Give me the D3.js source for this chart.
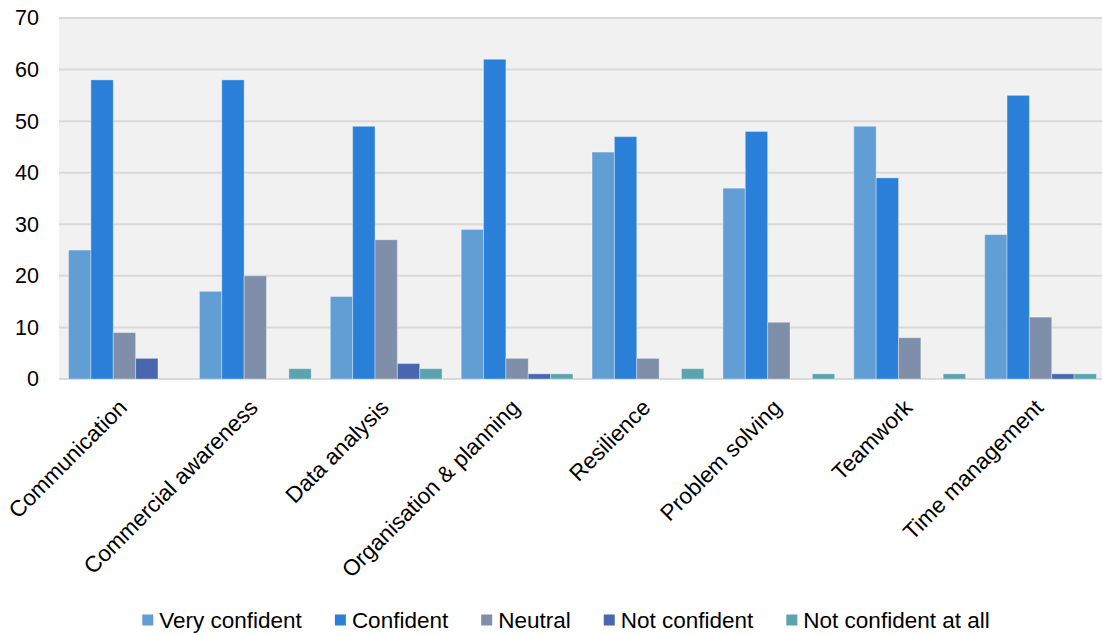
<!DOCTYPE html>
<html>
<head>
<meta charset="utf-8">
<script src="https://cdn.jsdelivr.net/npm/d3@7"></script>
<style>
  html, body { margin: 0; padding: 0; background: #ffffff; }
  svg { display: block; font-family: "Liberation Sans", Arial, sans-serif; }
</style>
</head>
<body>
<svg id="chart" width="1102" height="635"></svg>
<script>
// Skill categories along the x axis
const categories = [
  "Communication", "Commercial awareness", "Data analysis",
  "Organisation & planning", "Resilience", "Problem solving",
  "Teamwork", "Time management"
];

// Response levels (one bar per level within each category)
const seriesNames = ["Very confident", "Confident", "Neutral", "Not confident", "Not confident at all"];

const veryConfident     = [25, 17, 16, 29, 44, 37, 49, 28];
const confident         = [58, 58, 49, 62, 47, 48, 39, 55];
const neutral           = [9, 20, 27, 4, 4, 11, 8, 12];
const notConfident      = [4, 0, 3, 1, 0, 0, 0, 1];
const notConfidentAtAll = [0, 2, 2, 1, 2, 1, 1, 1];

const yTicks = [0, 10, 20, 30, 40, 50, 60, 70];

const colors = ["#619ed4", "#2a7fd8", "#7f8fa9", "#4967b0", "#5ba3ae"];

const seriesValues = [veryConfident, confident, neutral, notConfident, notConfidentAtAll];

const svg = d3.select("#chart");
const plot = { left: 59, right: 1106, top: 18, bottom: 379 };

const x = d3.scaleBand()
  .domain(categories)
  .range([plot.left, plot.right])
  .paddingInner(0.146)
  .paddingOuter(0.073);

const xInner = d3.scaleBand()
  .domain(seriesNames)
  .range([0, x.bandwidth()]);

const y = d3.scaleLinear()
  .domain([0, 70])
  .range([plot.bottom, plot.top]);

// Plot background
svg.append("rect")
  .attr("x", plot.left)
  .attr("y", plot.top)
  .attr("width", plot.right - plot.left)
  .attr("height", plot.bottom - plot.top)
  .attr("fill", "#f1f1f1");

// Horizontal gridlines
svg.append("g")
  .selectAll("line")
  .data(yTicks)
  .join("line")
  .attr("x1", plot.left)
  .attr("x2", plot.right)
  .attr("y1", d => y(d))
  .attr("y2", d => y(d))
  .attr("stroke", "#d9d9d9")
  .attr("stroke-width", 2);

// Y axis labels
const yAxis = d3.axisLeft(y).tickValues(yTicks).tickSize(0).tickPadding(20);
const yg = svg.append("g")
  .attr("transform", `translate(${plot.left},0)`)
  .call(yAxis);
yg.select(".domain").remove();
yg.selectAll("text")
  .attr("font-size", 21.5)
  .attr("fill", "#000")
  .attr("font-family", "Liberation Sans, Arial, sans-serif");

// Bars
const groups = svg.append("g")
  .selectAll("g")
  .data(categories)
  .join("g")
  .attr("transform", d => `translate(${x(d)},0)`);

groups.selectAll("rect")
  .data((d, i) => seriesNames.map((s, k) => ({ series: s, k, value: seriesValues[k][i] })))
  .join("rect")
  .filter(d => d.value > 0)
  .attr("x", d => xInner(d.series))
  .attr("width", xInner.bandwidth())
  .attr("y", d => y(d.value))
  .attr("height", d => y(0) - y(d.value))
  .attr("fill", d => colors[d.k])
  .attr("stroke", "rgba(255,255,255,0.35)")
  .attr("stroke-width", 1);

// Category labels, rotated
const xAxis = d3.axisBottom(x).tickSize(0).tickPadding(0);
const xg = svg.append("g")
  .attr("transform", `translate(0,${plot.bottom})`)
  .call(xAxis);
xg.select(".domain").remove();
xg.selectAll("text")
  .attr("font-size", 22.5)
  .attr("fill", "#000")
  .attr("font-family", "Liberation Sans, Arial, sans-serif")
  .attr("text-anchor", "end")
  .attr("dy", null)
  .attr("transform", "translate(4,30) rotate(-45)");

// Legend
const legend = svg.append("g");
const items = legend.selectAll("g")
  .data(seriesNames)
  .join("g");
items.append("rect")
  .attr("width", 11)
  .attr("height", 11)
  .attr("y", -5.5)
  .attr("fill", (d, i) => colors[i]);
items.append("text")
  .attr("x", 17)
  .attr("dy", "0.35em")
  .attr("font-size", 22.5)
  .attr("fill", "#000")
  .text(d => d);

const gap = 33;
let cursor = 0;
const offsets = [];
items.each(function () {
  const w = 17 + this.querySelector("text").getComputedTextLength();
  offsets.push(cursor);
  cursor += w + gap;
});
const total = cursor - gap;
const startX = 144 + (844 - total) / 2;
items.attr("transform", (d, i) => `translate(${startX + offsets[i]},620)`);
</script>
</body>
</html>
